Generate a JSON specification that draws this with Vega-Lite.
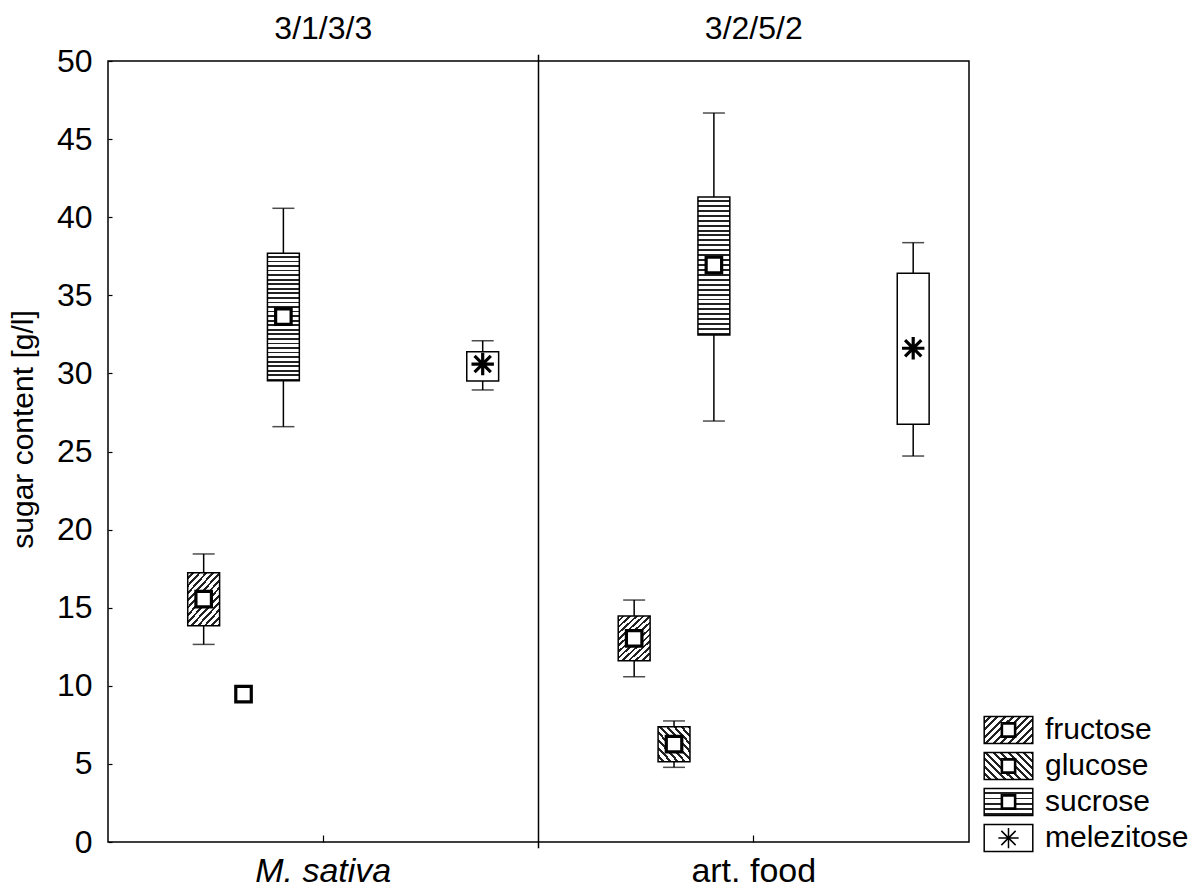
{
  "$schema": "https://vega.github.io/schema/vega-lite/v6.json",
  "width": 861,
  "height": 781,
  "autosize": {"type": "none"},
  "padding": {"left": 108, "top": 61, "right": 224, "bottom": 46},
  "background": "white",
  "config": {
    "view": {"stroke": "black", "strokeWidth": 1.5},
    "font": "Liberation Sans",
    "axis": {"labelFont": "Liberation Sans", "titleFont": "Liberation Sans", "labelColor": "black", "titleColor": "black", "tickColor": "black", "domain": false, "grid": false},
    "legend": {"orient": "none", "legendX": 885.5, "title": null, "symbolSize": 729, "symbolStrokeColor": "black", "symbolStrokeWidth": 1.5, "symbolOpacity": 1, "labelFont": "Liberation Sans", "labelFontSize": 30, "labelColor": "black", "labelOffset": 21.5, "padding": 0}
  },
  "datasets": {
    "stats": [
      {"food": "M. sativa", "sugar": "fructose", "min": 12.65, "q1": 13.85, "mean": 15.55, "q3": 17.24, "max": 18.44},
      {"food": "M. sativa", "sugar": "glucose", "min": null, "q1": null, "mean": 9.47, "q3": null, "max": null},
      {"food": "M. sativa", "sugar": "sucrose", "min": 26.59, "q1": 29.53, "mean": 33.64, "q3": 37.69, "max": 40.57},
      {"food": "M. sativa", "sugar": "melezitose", "min": 28.94, "q1": 29.51, "mean": 30.6, "q3": 31.39, "max": 32.09},
      {"food": "art. food", "sugar": "fructose", "min": 10.58, "q1": 11.61, "mean": 13.04, "q3": 14.47, "max": 15.49},
      {"food": "art. food", "sugar": "glucose", "min": 4.78, "q1": 5.14, "mean": 6.26, "q3": 7.38, "max": 7.75},
      {"food": "art. food", "sugar": "sucrose", "min": 26.95, "q1": 32.46, "mean": 36.94, "q3": 41.29, "max": 46.67},
      {"food": "art. food", "sugar": "melezitose", "min": 24.71, "q1": 26.74, "mean": 31.61, "q3": 36.41, "max": 38.37}
    ]
  },
  "data": {"name": "stats"},
  "resolve": {"axis": {"x": "independent"}, "scale": {"stroke": "independent"}, "legend": {"stroke": "independent"}},
  "layer": [
    {
      "transform": [{"filter": "isValid(datum.min)"}],
      "mark": {"type": "rule", "stroke": "black", "strokeWidth": 1.5},
      "encoding": {
        "x": {"field": "food", "type": "nominal", "sort": ["M. sativa", "art. food"], "scale": {"type": "band", "domain": ["M. sativa", "art. food"], "paddingInner": 0, "paddingOuter": 0},
          "axis": {"orient": "bottom", "title": null, "labelAngle": 0, "labelFontSize": 34, "labelPadding": 19, "tickSize": -7, "tickWidth": 1.2, "ticks": true, "domain": false,
            "labelFontStyle": {"condition": {"test": "datum.value == 'M. sativa'", "value": "italic"}, "value": "normal"}}},
        "xOffset": {"field": "sugar", "type": "nominal", "scale": {"domain": ["_0", "fructose", "glucose", "sucrose", "_4", "_5", "_6", "_7", "melezitose"], "paddingInner": 0.2, "paddingOuter": 1.16}},
        "y": {"field": "min", "type": "quantitative", "scale": {"domain": [0, 50], "nice": false, "zero": true},
          "axis": {"values": [0, 5, 10, 15, 20, 25, 30, 35, 40, 45, 50], "title": "sugar content [g/l]", "titleFontSize": 30, "titleFontWeight": "normal", "titlePadding": 18, "titleY": 368, "labelFontSize": 32, "labelPadding": 20, "tickSize": -4, "tickWidth": 1.2, "domain": false}},
        "y2": {"field": "max"}
      }
    },
    {
      "transform": [{"filter": "isValid(datum.min)"}],
      "mark": {"type": "tick", "color": "black", "size": 22, "thickness": 1.5},
      "encoding": {
        "x": {"field": "food", "type": "nominal", "sort": ["M. sativa", "art. food"], "axis": null},
        "xOffset": {"field": "sugar", "type": "nominal"},
        "y": {"field": "min", "type": "quantitative"}
      }
    },
    {
      "transform": [{"filter": "isValid(datum.max)"}],
      "mark": {"type": "tick", "color": "black", "size": 22, "thickness": 1.5},
      "encoding": {
        "x": {"field": "food", "type": "nominal", "sort": ["M. sativa", "art. food"], "axis": null},
        "xOffset": {"field": "sugar", "type": "nominal"},
        "y": {"field": "max", "type": "quantitative"}
      }
    },
    {
      "transform": [{"filter": "datum.sugar == 'fructose' && isValid(datum.q1)"}],
      "mark": {"type": "bar", "strokeWidth": 0,
        "fill": {"gradient": "linear", "x1": 0, "y1": 0, "x2": 0.763, "y2": 1.156, "stops": [
          {"offset": 0, "color": "white"},
          {"offset": 0.05, "color": "white"}, {"offset": 0.05, "color": "#222"}, {"offset": 0.0833, "color": "#222"}, {"offset": 0.0833, "color": "white"},
          {"offset": 0.1333, "color": "white"}, {"offset": 0.1333, "color": "#222"}, {"offset": 0.1667, "color": "#222"}, {"offset": 0.1667, "color": "white"},
          {"offset": 0.2167, "color": "white"}, {"offset": 0.2167, "color": "#222"}, {"offset": 0.25, "color": "#222"}, {"offset": 0.25, "color": "white"},
          {"offset": 0.3, "color": "white"}, {"offset": 0.3, "color": "#222"}, {"offset": 0.3333, "color": "#222"}, {"offset": 0.3333, "color": "white"},
          {"offset": 0.3833, "color": "white"}, {"offset": 0.3833, "color": "#222"}, {"offset": 0.4167, "color": "#222"}, {"offset": 0.4167, "color": "white"},
          {"offset": 0.4667, "color": "white"}, {"offset": 0.4667, "color": "#222"}, {"offset": 0.5, "color": "#222"}, {"offset": 0.5, "color": "white"},
          {"offset": 0.55, "color": "white"}, {"offset": 0.55, "color": "#222"}, {"offset": 0.5833, "color": "#222"}, {"offset": 0.5833, "color": "white"},
          {"offset": 0.6333, "color": "white"}, {"offset": 0.6333, "color": "#222"}, {"offset": 0.6667, "color": "#222"}, {"offset": 0.6667, "color": "white"},
          {"offset": 0.7167, "color": "white"}, {"offset": 0.7167, "color": "#222"}, {"offset": 0.75, "color": "#222"}, {"offset": 0.75, "color": "white"},
          {"offset": 0.8, "color": "white"}, {"offset": 0.8, "color": "#222"}, {"offset": 0.8333, "color": "#222"}, {"offset": 0.8333, "color": "white"},
          {"offset": 0.8833, "color": "white"}, {"offset": 0.8833, "color": "#222"}, {"offset": 0.9167, "color": "#222"}, {"offset": 0.9167, "color": "white"},
          {"offset": 0.9667, "color": "white"}, {"offset": 0.9667, "color": "#222"}, {"offset": 1, "color": "#222"}
        ]}},
      "encoding": {
        "x": {"field": "food", "type": "nominal", "sort": ["M. sativa", "art. food"], "axis": null},
        "xOffset": {"field": "sugar", "type": "nominal"},
        "y": {"field": "q1", "type": "quantitative"},
        "y2": {"field": "q3"}
      }
    },
    {
      "transform": [{"filter": "datum.sugar == 'glucose' && isValid(datum.q1)"}],
      "mark": {"type": "bar", "strokeWidth": 0,
        "fill": {"gradient": "linear", "x1": 0, "y1": 1, "x2": 1, "y2": 0, "stops": [
          {"offset": 0, "color": "white"},
          {"offset": 0.0667, "color": "white"}, {"offset": 0.0667, "color": "#222"}, {"offset": 0.1111, "color": "#222"}, {"offset": 0.1111, "color": "white"},
          {"offset": 0.1778, "color": "white"}, {"offset": 0.1778, "color": "#222"}, {"offset": 0.2222, "color": "#222"}, {"offset": 0.2222, "color": "white"},
          {"offset": 0.2889, "color": "white"}, {"offset": 0.2889, "color": "#222"}, {"offset": 0.3333, "color": "#222"}, {"offset": 0.3333, "color": "white"},
          {"offset": 0.4, "color": "white"}, {"offset": 0.4, "color": "#222"}, {"offset": 0.4444, "color": "#222"}, {"offset": 0.4444, "color": "white"},
          {"offset": 0.5111, "color": "white"}, {"offset": 0.5111, "color": "#222"}, {"offset": 0.5556, "color": "#222"}, {"offset": 0.5556, "color": "white"},
          {"offset": 0.6222, "color": "white"}, {"offset": 0.6222, "color": "#222"}, {"offset": 0.6667, "color": "#222"}, {"offset": 0.6667, "color": "white"},
          {"offset": 0.7333, "color": "white"}, {"offset": 0.7333, "color": "#222"}, {"offset": 0.7778, "color": "#222"}, {"offset": 0.7778, "color": "white"},
          {"offset": 0.8444, "color": "white"}, {"offset": 0.8444, "color": "#222"}, {"offset": 0.8889, "color": "#222"}, {"offset": 0.8889, "color": "white"},
          {"offset": 0.9556, "color": "white"}, {"offset": 0.9556, "color": "#222"}, {"offset": 1, "color": "#222"}
        ]}},
      "encoding": {
        "x": {"field": "food", "type": "nominal", "sort": ["M. sativa", "art. food"], "axis": null},
        "xOffset": {"field": "sugar", "type": "nominal"},
        "y": {"field": "q1", "type": "quantitative"},
        "y2": {"field": "q3"}
      }
    },
    {
      "transform": [{"filter": "datum.sugar == 'sucrose' && isValid(datum.q1)"}],
      "mark": {"type": "bar", "strokeWidth": 0,
        "fill": {"gradient": "linear", "x1": 0, "y1": 0, "x2": 0, "y2": 1, "stops": [
          {"offset": 0, "color": "white"},
          {"offset": 0.0214, "color": "white"}, {"offset": 0.0214, "color": "#222"}, {"offset": 0.0357, "color": "#222"}, {"offset": 0.0357, "color": "white"},
          {"offset": 0.0571, "color": "white"}, {"offset": 0.0571, "color": "#222"}, {"offset": 0.0714, "color": "#222"}, {"offset": 0.0714, "color": "white"},
          {"offset": 0.0929, "color": "white"}, {"offset": 0.0929, "color": "#222"}, {"offset": 0.1071, "color": "#222"}, {"offset": 0.1071, "color": "white"},
          {"offset": 0.1286, "color": "white"}, {"offset": 0.1286, "color": "#222"}, {"offset": 0.1429, "color": "#222"}, {"offset": 0.1429, "color": "white"},
          {"offset": 0.1643, "color": "white"}, {"offset": 0.1643, "color": "#222"}, {"offset": 0.1786, "color": "#222"}, {"offset": 0.1786, "color": "white"},
          {"offset": 0.2, "color": "white"}, {"offset": 0.2, "color": "#222"}, {"offset": 0.2143, "color": "#222"}, {"offset": 0.2143, "color": "white"},
          {"offset": 0.2357, "color": "white"}, {"offset": 0.2357, "color": "#222"}, {"offset": 0.25, "color": "#222"}, {"offset": 0.25, "color": "white"},
          {"offset": 0.2714, "color": "white"}, {"offset": 0.2714, "color": "#222"}, {"offset": 0.2857, "color": "#222"}, {"offset": 0.2857, "color": "white"},
          {"offset": 0.3071, "color": "white"}, {"offset": 0.3071, "color": "#222"}, {"offset": 0.3214, "color": "#222"}, {"offset": 0.3214, "color": "white"},
          {"offset": 0.3429, "color": "white"}, {"offset": 0.3429, "color": "#222"}, {"offset": 0.3571, "color": "#222"}, {"offset": 0.3571, "color": "white"},
          {"offset": 0.3786, "color": "white"}, {"offset": 0.3786, "color": "#222"}, {"offset": 0.3929, "color": "#222"}, {"offset": 0.3929, "color": "white"},
          {"offset": 0.4143, "color": "white"}, {"offset": 0.4143, "color": "#222"}, {"offset": 0.4286, "color": "#222"}, {"offset": 0.4286, "color": "white"},
          {"offset": 0.45, "color": "white"}, {"offset": 0.45, "color": "#222"}, {"offset": 0.4643, "color": "#222"}, {"offset": 0.4643, "color": "white"},
          {"offset": 0.4857, "color": "white"}, {"offset": 0.4857, "color": "#222"}, {"offset": 0.5, "color": "#222"}, {"offset": 0.5, "color": "white"},
          {"offset": 0.5214, "color": "white"}, {"offset": 0.5214, "color": "#222"}, {"offset": 0.5357, "color": "#222"}, {"offset": 0.5357, "color": "white"},
          {"offset": 0.5571, "color": "white"}, {"offset": 0.5571, "color": "#222"}, {"offset": 0.5714, "color": "#222"}, {"offset": 0.5714, "color": "white"},
          {"offset": 0.5929, "color": "white"}, {"offset": 0.5929, "color": "#222"}, {"offset": 0.6071, "color": "#222"}, {"offset": 0.6071, "color": "white"},
          {"offset": 0.6286, "color": "white"}, {"offset": 0.6286, "color": "#222"}, {"offset": 0.6429, "color": "#222"}, {"offset": 0.6429, "color": "white"},
          {"offset": 0.6643, "color": "white"}, {"offset": 0.6643, "color": "#222"}, {"offset": 0.6786, "color": "#222"}, {"offset": 0.6786, "color": "white"},
          {"offset": 0.7, "color": "white"}, {"offset": 0.7, "color": "#222"}, {"offset": 0.7143, "color": "#222"}, {"offset": 0.7143, "color": "white"},
          {"offset": 0.7357, "color": "white"}, {"offset": 0.7357, "color": "#222"}, {"offset": 0.75, "color": "#222"}, {"offset": 0.75, "color": "white"},
          {"offset": 0.7714, "color": "white"}, {"offset": 0.7714, "color": "#222"}, {"offset": 0.7857, "color": "#222"}, {"offset": 0.7857, "color": "white"},
          {"offset": 0.8071, "color": "white"}, {"offset": 0.8071, "color": "#222"}, {"offset": 0.8214, "color": "#222"}, {"offset": 0.8214, "color": "white"},
          {"offset": 0.8429, "color": "white"}, {"offset": 0.8429, "color": "#222"}, {"offset": 0.8571, "color": "#222"}, {"offset": 0.8571, "color": "white"},
          {"offset": 0.8786, "color": "white"}, {"offset": 0.8786, "color": "#222"}, {"offset": 0.8929, "color": "#222"}, {"offset": 0.8929, "color": "white"},
          {"offset": 0.9143, "color": "white"}, {"offset": 0.9143, "color": "#222"}, {"offset": 0.9286, "color": "#222"}, {"offset": 0.9286, "color": "white"},
          {"offset": 0.95, "color": "white"}, {"offset": 0.95, "color": "#222"}, {"offset": 0.9643, "color": "#222"}, {"offset": 0.9643, "color": "white"},
          {"offset": 0.9857, "color": "white"}, {"offset": 0.9857, "color": "#222"}, {"offset": 1, "color": "#222"}
        ]}},
      "encoding": {
        "x": {"field": "food", "type": "nominal", "sort": ["M. sativa", "art. food"], "axis": null},
        "xOffset": {"field": "sugar", "type": "nominal"},
        "y": {"field": "q1", "type": "quantitative"},
        "y2": {"field": "q3"}
      }
    },
    {
      "transform": [{"filter": "datum.sugar == 'melezitose' && isValid(datum.q1)"}],
      "mark": {"type": "bar", "strokeWidth": 0, "fill": "white"},
      "encoding": {
        "x": {"field": "food", "type": "nominal", "sort": ["M. sativa", "art. food"], "axis": null},
        "xOffset": {"field": "sugar", "type": "nominal"},
        "y": {"field": "q1", "type": "quantitative"},
        "y2": {"field": "q3"},
        "stroke": {"field": "sugar", "type": "nominal", "scale": {"range": ["black"]},
          "legend": {"legendY": 762, "symbolType": "M-1.8,-1L1.8,-1L1.8,1L-1.8,1ZM0,-0.75L0,0.75M-0.75,0L0.75,0M-0.53,-0.53L0.53,0.53M-0.53,0.53L0.53,-0.53"}}
      }
    },
    {
      "transform": [{"filter": "datum.sugar == 'fructose' && isValid(datum.q1)"}],
      "mark": {"type": "bar", "strokeWidth": 0, "opacity": 0,
        "fill": {"gradient": "linear", "x1": 0, "y1": 0, "x2": 1.187, "y2": 0.668, "stops": [
          {"offset": 0, "color": "white"},
          {"offset": 0.06, "color": "white"}, {"offset": 0.06, "color": "#222"}, {"offset": 0.1, "color": "#222"}, {"offset": 0.1, "color": "white"},
          {"offset": 0.16, "color": "white"}, {"offset": 0.16, "color": "#222"}, {"offset": 0.2, "color": "#222"}, {"offset": 0.2, "color": "white"},
          {"offset": 0.26, "color": "white"}, {"offset": 0.26, "color": "#222"}, {"offset": 0.3, "color": "#222"}, {"offset": 0.3, "color": "white"},
          {"offset": 0.36, "color": "white"}, {"offset": 0.36, "color": "#222"}, {"offset": 0.4, "color": "#222"}, {"offset": 0.4, "color": "white"},
          {"offset": 0.46, "color": "white"}, {"offset": 0.46, "color": "#222"}, {"offset": 0.5, "color": "#222"}, {"offset": 0.5, "color": "white"},
          {"offset": 0.56, "color": "white"}, {"offset": 0.56, "color": "#222"}, {"offset": 0.6, "color": "#222"}, {"offset": 0.6, "color": "white"},
          {"offset": 0.66, "color": "white"}, {"offset": 0.66, "color": "#222"}, {"offset": 0.7, "color": "#222"}, {"offset": 0.7, "color": "white"},
          {"offset": 0.76, "color": "white"}, {"offset": 0.76, "color": "#222"}, {"offset": 0.8, "color": "#222"}, {"offset": 0.8, "color": "white"},
          {"offset": 0.86, "color": "white"}, {"offset": 0.86, "color": "#222"}, {"offset": 0.9, "color": "#222"}, {"offset": 0.9, "color": "white"},
          {"offset": 0.96, "color": "white"}, {"offset": 0.96, "color": "#222"}, {"offset": 1, "color": "#222"}
        ]}},
      "encoding": {
        "x": {"field": "food", "type": "nominal", "sort": ["M. sativa", "art. food"], "axis": null},
        "xOffset": {"field": "sugar", "type": "nominal"},
        "y": {"field": "q1", "type": "quantitative"},
        "y2": {"field": "q3"},
        "stroke": {"field": "sugar", "type": "nominal", "scale": {"range": ["black"]},
          "legend": {"legendY": 654, "symbolType": "M-1.8,-1L1.8,-1L1.8,1L-1.8,1ZM-0.53,-0.53L-0.53,0.53L0.53,0.53L0.53,-0.53ZM-0.45,-0.45L0.45,-0.45L0.45,0.45L-0.45,0.45L-0.45,-0.45L-0.45,0.45L0.45,0.45L0.45,-0.45L-0.45,-0.45"}}
      }
    },
    {
      "transform": [{"filter": "datum.sugar == 'glucose' && isValid(datum.q1)"}],
      "mark": {"type": "bar", "strokeWidth": 0, "opacity": 0,
        "fill": {"gradient": "linear", "x1": 0, "y1": 1, "x2": 1.187, "y2": 0.332, "stops": [
          {"offset": 0, "color": "white"},
          {"offset": 0.06, "color": "white"}, {"offset": 0.06, "color": "#222"}, {"offset": 0.1, "color": "#222"}, {"offset": 0.1, "color": "white"},
          {"offset": 0.16, "color": "white"}, {"offset": 0.16, "color": "#222"}, {"offset": 0.2, "color": "#222"}, {"offset": 0.2, "color": "white"},
          {"offset": 0.26, "color": "white"}, {"offset": 0.26, "color": "#222"}, {"offset": 0.3, "color": "#222"}, {"offset": 0.3, "color": "white"},
          {"offset": 0.36, "color": "white"}, {"offset": 0.36, "color": "#222"}, {"offset": 0.4, "color": "#222"}, {"offset": 0.4, "color": "white"},
          {"offset": 0.46, "color": "white"}, {"offset": 0.46, "color": "#222"}, {"offset": 0.5, "color": "#222"}, {"offset": 0.5, "color": "white"},
          {"offset": 0.56, "color": "white"}, {"offset": 0.56, "color": "#222"}, {"offset": 0.6, "color": "#222"}, {"offset": 0.6, "color": "white"},
          {"offset": 0.66, "color": "white"}, {"offset": 0.66, "color": "#222"}, {"offset": 0.7, "color": "#222"}, {"offset": 0.7, "color": "white"},
          {"offset": 0.76, "color": "white"}, {"offset": 0.76, "color": "#222"}, {"offset": 0.8, "color": "#222"}, {"offset": 0.8, "color": "white"},
          {"offset": 0.86, "color": "white"}, {"offset": 0.86, "color": "#222"}, {"offset": 0.9, "color": "#222"}, {"offset": 0.9, "color": "white"},
          {"offset": 0.96, "color": "white"}, {"offset": 0.96, "color": "#222"}, {"offset": 1, "color": "#222"}
        ]}},
      "encoding": {
        "x": {"field": "food", "type": "nominal", "sort": ["M. sativa", "art. food"], "axis": null},
        "xOffset": {"field": "sugar", "type": "nominal"},
        "y": {"field": "q1", "type": "quantitative"},
        "y2": {"field": "q3"},
        "stroke": {"field": "sugar", "type": "nominal", "scale": {"range": ["black"]},
          "legend": {"legendY": 690, "symbolType": "M-1.8,-1L1.8,-1L1.8,1L-1.8,1ZM-0.53,-0.53L-0.53,0.53L0.53,0.53L0.53,-0.53ZM-0.45,-0.45L0.45,-0.45L0.45,0.45L-0.45,0.45L-0.45,-0.45L-0.45,0.45L0.45,0.45L0.45,-0.45L-0.45,-0.45"}}
      }
    },
    {
      "transform": [{"filter": "datum.sugar == 'sucrose' && isValid(datum.q1)"}],
      "mark": {"type": "bar", "strokeWidth": 0, "opacity": 0,
        "fill": {"gradient": "linear", "x1": 0, "y1": 0, "x2": 0, "y2": 1, "stops": [
          {"offset": 0, "color": "white"},
          {"offset": 0.14, "color": "white"}, {"offset": 0.14, "color": "#222"}, {"offset": 0.2, "color": "#222"}, {"offset": 0.2, "color": "white"},
          {"offset": 0.34, "color": "white"}, {"offset": 0.34, "color": "#222"}, {"offset": 0.4, "color": "#222"}, {"offset": 0.4, "color": "white"},
          {"offset": 0.54, "color": "white"}, {"offset": 0.54, "color": "#222"}, {"offset": 0.6, "color": "#222"}, {"offset": 0.6, "color": "white"},
          {"offset": 0.74, "color": "white"}, {"offset": 0.74, "color": "#222"}, {"offset": 0.8, "color": "#222"}, {"offset": 0.8, "color": "white"},
          {"offset": 0.92, "color": "white"}, {"offset": 0.92, "color": "#222"}, {"offset": 1, "color": "#222"}
        ]}},
      "encoding": {
        "x": {"field": "food", "type": "nominal", "sort": ["M. sativa", "art. food"], "axis": null},
        "xOffset": {"field": "sugar", "type": "nominal"},
        "y": {"field": "q1", "type": "quantitative"},
        "y2": {"field": "q3"},
        "stroke": {"field": "sugar", "type": "nominal", "scale": {"range": ["black"]},
          "legend": {"legendY": 726, "symbolType": "M-1.8,-1L1.8,-1L1.8,1L-1.8,1ZM-0.53,-0.53L-0.53,0.53L0.53,0.53L0.53,-0.53ZM-0.45,-0.45L0.45,-0.45L0.45,0.45L-0.45,0.45L-0.45,-0.45L-0.45,0.45L0.45,0.45L0.45,-0.45L-0.45,-0.45"}}
      }
    },
    {
      "transform": [{"filter": "isValid(datum.q1)"}],
      "mark": {"type": "bar", "fill": "transparent", "stroke": "black", "strokeWidth": 1.5, "opacity": 1},
      "encoding": {
        "x": {"field": "food", "type": "nominal", "sort": ["M. sativa", "art. food"],
          "axis": {"orient": "top", "title": null, "labelAngle": 0, "ticks": false, "domain": false, "labelFontSize": 32, "labelPadding": 16,
            "labelExpr": "datum.value == 'M. sativa' ? '3/1/3/3' : '3/2/5/2'"}},
        "xOffset": {"field": "sugar", "type": "nominal"},
        "y": {"field": "q1", "type": "quantitative"},
        "y2": {"field": "q3"}
      }
    },
    {
      "mark": {"type": "point", "filled": true, "fill": "white", "stroke": "black", "strokeWidth": 3.2, "size": 240, "opacity": 1},
      "encoding": {
        "x": {"field": "food", "type": "nominal", "sort": ["M. sativa", "art. food"], "axis": null},
        "xOffset": {"field": "sugar", "type": "nominal"},
        "y": {"field": "mean", "type": "quantitative"},
        "shape": {"field": "sugar", "type": "nominal", "sort": ["fructose", "glucose", "sucrose", "melezitose"],
          "scale": {"range": ["square", "square", "square", "M0,-1.45L0,1.45M-1.45,0L1.45,0M-1.05,-1.05L1.05,1.05M-1.05,1.05L1.05,-1.05"]},
          "legend": null}
      }
    },
    {
      "data": {"values": [{"food": "art. food"}]},
      "mark": {"type": "rule", "stroke": "black", "strokeWidth": 1.5},
      "encoding": {
        "x": {"field": "food", "type": "nominal", "sort": ["M. sativa", "art. food"], "bandPosition": 0, "axis": null},
        "y": {"datum": -0.4},
        "y2": {"datum": 50.4}
      }
    }
  ]
}
